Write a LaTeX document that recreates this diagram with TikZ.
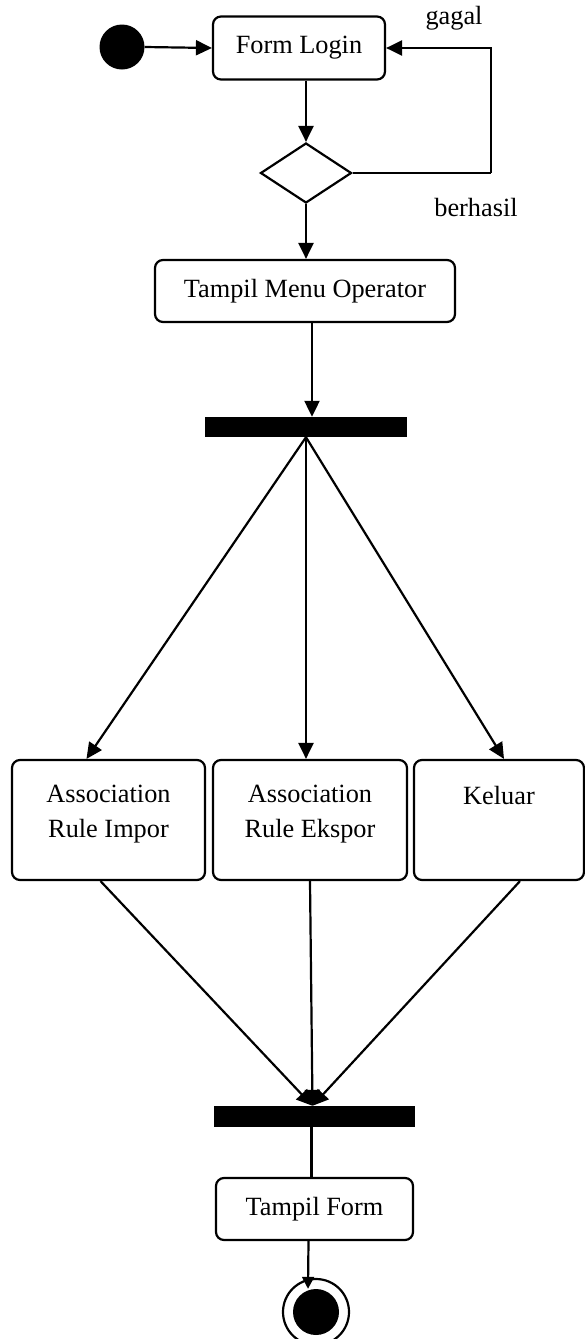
\documentclass[tikz,border=0pt]{standalone}
\usepackage{fontspec}
\setmainfont{Liberation Serif}
\usetikzlibrary{arrows.meta,shapes.geometric,calc}
\tikzset{
  actbox/.style={draw, line width=2.2pt, rounded corners=8pt, inner sep=0pt, align=center},
  bartag/.style={fill=black, draw=none, inner sep=0pt},
  conn/.style={line width=2.2pt},
  arr/.style={conn, -{Triangle[length=16pt,width=15pt]}},
  txt/.style={inner sep=0pt, align=center},
}
\begin{document}
\begin{tikzpicture}[x=1pt,y=-1pt, font=\fontsize{26.3}{35}\selectfont]
\useasboundingbox (0,0) rectangle (585,1339);
% start
\node[circle, fill=black, minimum size=45pt, inner sep=0pt] (start) at (122,47) {};
\node[actbox, minimum width=172pt, minimum height=63pt] (login) at (299,48) {Form Login};
\node[draw, diamond, line width=2.2pt, minimum width=91pt, minimum height=60pt, inner sep=0pt] (dia) at (306,173) {};
\node[txt] (gagal) at (454,18) {gagal};
\node[txt] (berhasil) at (476,207) {berhasil};
\coordinate (loopc) at (491,173);
\node[actbox, minimum width=300pt, minimum height=62pt] (menu) at (305,291) {Tampil Menu Operator};
\node[bartag, minimum width=202pt, minimum height=20pt] (bar1) at (306,427) {};
% three actions
\node[actbox, minimum width=193pt, minimum height=120pt] (lbox) at (108.5,820) {};
\node[actbox, minimum width=194pt, minimum height=120pt] (mbox) at (310,820) {};
\node[actbox, minimum width=170pt, minimum height=120pt] (rbox) at (499,820) {};
\node[txt, anchor=north] (ltxt) at (108.5,785) {Association\\Rule Impor};
\node[txt, anchor=north] (mtxt) at (310,785) {Association\\Rule Ekspor};
\node[txt, anchor=north] (rtxt) at (499,786) {Keluar};
\node[bartag, minimum width=201pt, minimum height=21pt] (bar2) at (314.5,1116.5) {};
\node[actbox, minimum width=197pt, minimum height=62pt] (tform) at (314.5,1209) {Tampil Form};
\node[circle, draw, line width=2.2pt, minimum size=66pt, inner sep=0pt] (endo) at (316,1312) {};
\node[circle, fill=black, minimum size=46pt, inner sep=0pt] (endi) at (316,1312) {};
% connectors
\draw[arr] (start.east) -- (login.west);
\draw[arr] (login.south -| dia.north) -- (dia.north);
\draw[conn] (dia.east) -- (loopc);
\draw[arr] (loopc) |- (login.east);
\draw[arr] (dia.south) -- (menu.north -| dia.south);
\draw[arr] ([xshift=7pt]menu.south) -- ([xshift=6pt]bar1.north);
\draw[arr] (bar1.south) -- ([xshift=-22pt]lbox.north);
\draw[arr] (bar1.south) -- ([xshift=-4pt]mbox.north);
\draw[arr] (bar1.south) -- ([xshift=5pt]rbox.north);
\draw[arr] ([xshift=-8pt]lbox.south) -- ([xshift=-2pt]bar2.north);
\draw[arr] (mbox.south) -- ([xshift=-2pt]bar2.north);
\draw[arr] ([xshift=21pt]rbox.south) -- ([xshift=-2pt]bar2.north);
\draw[conn] ([xshift=-3pt]bar2.south) -- ([xshift=-3pt]tform.north);
\draw[conn, -{Triangle[length=12pt,width=12pt]}] ([xshift=-6pt]tform.south) -- ([xshift=-8pt]endi.north);
\end{tikzpicture}
\end{document}
